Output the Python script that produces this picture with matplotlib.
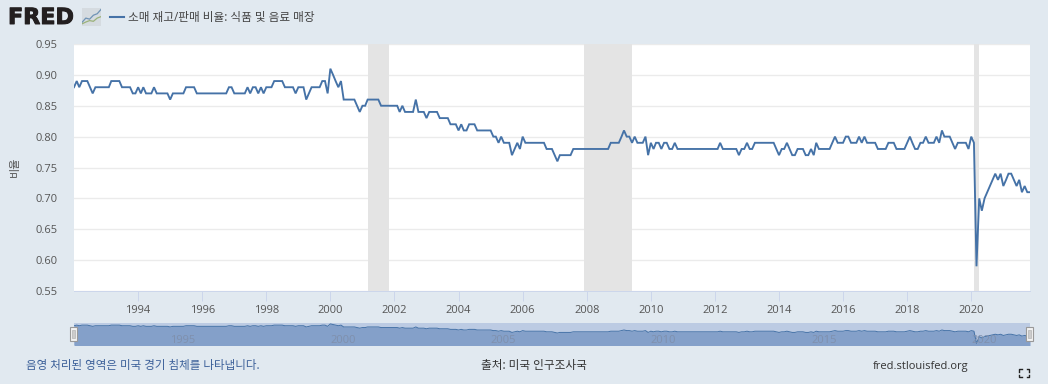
import matplotlib
matplotlib.use("Agg")
import matplotlib.pyplot as plt
import matplotlib.patheffects as pe
import pandas as pd

plt.rcParams['font.family'] = ['Open Sans', 'Noto Sans CJK KR', 'DejaVu Sans']

# monthly values, one list per year
y1992 = [.88, .89, .88, .89, .89, .89, .88, .87, .88, .88, .88, .88]
y1993 = [.88, .88, .89, .89, .89, .89, .88, .88, .88, .88, .87, .87]
y1994 = [.88, .87, .88, .87, .87, .87, .88, .87, .87, .87, .87, .87]
y1995 = [.86, .87, .87, .87, .87, .87, .88, .88, .88, .88, .87, .87]
y1996 = [.87, .87, .87, .87, .87, .87, .87, .87, .87, .87, .88, .88]
y1997 = [.87, .87, .87, .87, .87, .88, .87, .88, .88, .87, .88, .87]
y1998 = [.88, .88, .88, .89, .89, .89, .89, .88, .88, .88, .88, .87]
y1999 = [.88, .88, .88, .86, .87, .88, .88, .88, .88, .89, .89, .87]
y2000 = [.91, .90, .89, .88, .89, .86, .86, .86, .86, .86, .85, .84]
y2001 = [.85, .85, .86, .86, .86, .86, .86, .85, .85, .85, .85, .85]
y2002 = [.85, .85, .84, .85, .84, .84, .84, .84, .86, .84, .84, .84]
y2003 = [.83, .84, .84, .84, .84, .83, .83, .83, .83, .82, .82, .82]
y2004 = [.81, .82, .81, .81, .82, .82, .82, .81, .81, .81, .81, .81]
y2005 = [.81, .80, .80, .79, .80, .79, .79, .79, .77, .78, .79, .78]
y2006 = [.80, .79, .79, .79, .79, .79, .79, .79, .79, .78, .78, .78]
y2007 = [.77, .76, .77, .77, .77, .77, .77, .78, .78, .78, .78, .78]
y2008 = [.78, .78, .78, .78, .78, .78, .78, .78, .78, .79, .79, .79]
y2009 = [.79, .80, .81, .80, .80, .79, .80, .79, .79, .79, .80, .77]
y2010 = [.79, .78, .79, .79, .78, .79, .79, .78, .78, .79, .78, .78]
y2011 = [.78, .78, .78, .78, .78, .78, .78, .78, .78, .78, .78, .78]
y2012 = [.78, .78, .79, .78, .78, .78, .78, .78, .78, .77, .78, .78]
y2013 = [.79, .78, .78, .79, .79, .79, .79, .79, .79, .79, .79, .78]
y2014 = [.77, .78, .78, .79, .78, .77, .77, .78, .78, .78, .77, .77]
y2015 = [.78, .77, .79, .78, .78, .78, .78, .78, .79, .80, .79, .79]
y2016 = [.79, .80, .80, .79, .79, .79, .80, .79, .80, .79, .79, .79]
y2017 = [.79, .78, .78, .78, .78, .79, .79, .79, .78, .78, .78, .78]
y2018 = [.79, .80, .79, .78, .78, .79, .79, .80, .79, .79, .79, .80]
y2019 = [.79, .81, .80, .80, .80, .79, .78, .79, .79, .79, .79, .78]
y2020 = [.80, .79, .59, .70, .68, .70, .71, .72, .73, .74, .73, .74]
y2021 = [.72, .73, .74, .74, .73, .72, .73, .71, .72, .71, .71]

valores = (y1992 + y1993 + y1994 + y1995 + y1996 + y1997 + y1998 + y1999 + y2000 + y2001
           + y2002 + y2003 + y2004 + y2005 + y2006 + y2007 + y2008 + y2009 + y2010 + y2011
           + y2012 + y2013 + y2014 + y2015 + y2016 + y2017 + y2018 + y2019 + y2020 + y2021)
datas = pd.date_range('1992-01-01', periods=len(valores), freq='MS')

recessoes = [('2001-03-01', '2001-11-01'), ('2007-12-01', '2009-06-01'), ('2020-02-01', '2020-04-01')]
y_ticks = [0.55, 0.60, 0.65, 0.70, 0.75, 0.80, 0.85, 0.90, 0.95]
x_anos = list(range(1994, 2021, 2))
nav_anos = [1995, 2000, 2005, 2010, 2015, 2020]

titulo = '소매 재고/판매 비율: 식품 및 음료 매장'
y_titulo = '비율'
nota = '음영 처리된 영역은 미국 경기 침체를 나타냅니다.'
fonte = '출처: 미국 인구조사국'
site = 'fred.stlouisfed.org'

W, H = 1048, 384
BG = '#e1e9f0'
AZUL = '#4572a7'
CINZA = '#555555'


def px_axes(x0, y0, x1, y1, **kw):
    return fig.add_axes([x0 / W, 1 - y1 / H, (x1 - x0) / W, (y1 - y0) / H], **kw)


def px_text(x, y, s, **kw):
    kw.setdefault('va', 'center')
    return fig.text(x / W, 1 - y / H, s, **kw)


fig = plt.figure(figsize=(W / 100, H / 100), dpi=100, facecolor=BG)

# main chart
ax = px_axes(74, 44, 1030, 291, facecolor='white')
for ini, fim in recessoes:
    ax.axvspan(pd.Timestamp(ini), pd.Timestamp(fim), color='#e4e4e4', lw=0, zorder=1)
ax.plot(datas, valores, color=AZUL, lw=1.35, zorder=3, solid_joinstyle='miter')
ax.set_xlim(datas[0], datas[-1])
ax.set_ylim(0.55, 0.95)
ax.set_yticks(y_ticks)
ax.set_yticklabels([f'{v:.2f}' for v in y_ticks])
ax.set_xticks([pd.Timestamp(f'{a}-01-01') for a in x_anos])
ax.set_xticklabels([str(a) for a in x_anos])
ax.grid(axis='y', color='#ebebeb', lw=1, zorder=0)
ax.set_axisbelow(True)
ax.tick_params(axis='y', length=0, pad=12, labelsize=8, labelcolor=CINZA)
ax.tick_params(axis='x', length=7, width=0.7, color='#ccd6eb', pad=3, labelsize=8, labelcolor=CINZA)
for s in ax.spines.values():
    s.set_visible(False)
ax.spines['bottom'].set_visible(True)
ax.spines['bottom'].set_color('#ccd6eb')
ax.spines['bottom'].set_linewidth(0.7)

# navigator
nav = px_axes(74, 323, 1030, 345, facecolor='#bccbe3')
nav.fill_between(datas, valores, 0.5, color='#84a0c9', lw=0)
nav.plot(datas, valores, color=AZUL, lw=0.7)
nav.set_xlim(datas[0], datas[-1])
nav.set_ylim(0.563, 0.925)
nav.set_xticks([])
nav.set_yticks([])
for s in nav.spines.values():
    s.set_visible(False)
for a in nav_anos:
    nav.text(pd.Timestamp(f'{a}-01-01'), 0.63, str(a), ha='left', va='center', fontsize=8,
             color='#7f90ad')

# navigator handles
for xh in (73.5, 1029):
    fig.patches.append(plt.Rectangle(((xh - 3.5) / W, 1 - 341 / H), 7 / W, 14 / H, transform=fig.transFigure,
                                     facecolor='#f2f2f2', edgecolor='#999999', lw=0.8, zorder=5))
    fig.patches.append(plt.Rectangle(((xh - 1.5) / W, 1 - 338 / H), 3 / W, 8 / H, transform=fig.transFigure,
                                     facecolor='#cccccc', edgecolor='#aaaaaa', lw=0.4, zorder=6))

# header
logo = px_text(8, 18, 'FRED', fontsize=16, fontweight='bold', family='DejaVu Sans', color='#231f20')
logo.set_path_effects([pe.withStroke(linewidth=0.7, foreground='#231f20')])
ic = px_axes(82, 8, 101, 26, facecolor='#d5dbe0')
ic.plot([0, 1, 2, 3, 4, 5], [1, 2.2, 1.9, 3, 3.4, 4.6], color='#6f93b5', lw=0.9)
ic.plot([0, 1, 2, 3, 4, 5], [0.6, 1.1, 1.5, 1.3, 2.2, 2.6], color='#9bb27a', lw=0.9)
ic.set_xlim(0, 5)
ic.set_ylim(0, 5)
ic.set_xticks([])
ic.set_yticks([])
for s in ic.spines.values():
    s.set_visible(False)
fig.add_artist(plt.Line2D([110 / W, 124 / W], [1 - 17 / H, 1 - 17 / H], color=AZUL, lw=1.5))
px_text(128, 17, titulo, fontsize=8.4, color='#444444')

# y title and footer
px_text(15, 167, y_titulo, fontsize=8, color=CINZA, rotation=90, ha='center')
px_text(26, 366, nota, fontsize=8.3, color='#3c6099')
px_text(481, 366, fonte, fontsize=8.4, color='#333333')
px_text(873, 367, site, fontsize=8, color='#333333')

# full screen icon
for cx, cy, dx, dy in [(1019, 369, 1, 1), (1029, 369, -1, 1), (1019, 377, 1, -1), (1029, 377, -1, -1)]:
    fig.add_artist(plt.Line2D([cx / W, cx / W, (cx + 2.5 * dx) / W],
                              [1 - (cy + 2.5 * dy) / H, 1 - cy / H, 1 - cy / H], color='#222222', lw=1))

fig.savefig('out.png', dpi=100, facecolor=BG)
